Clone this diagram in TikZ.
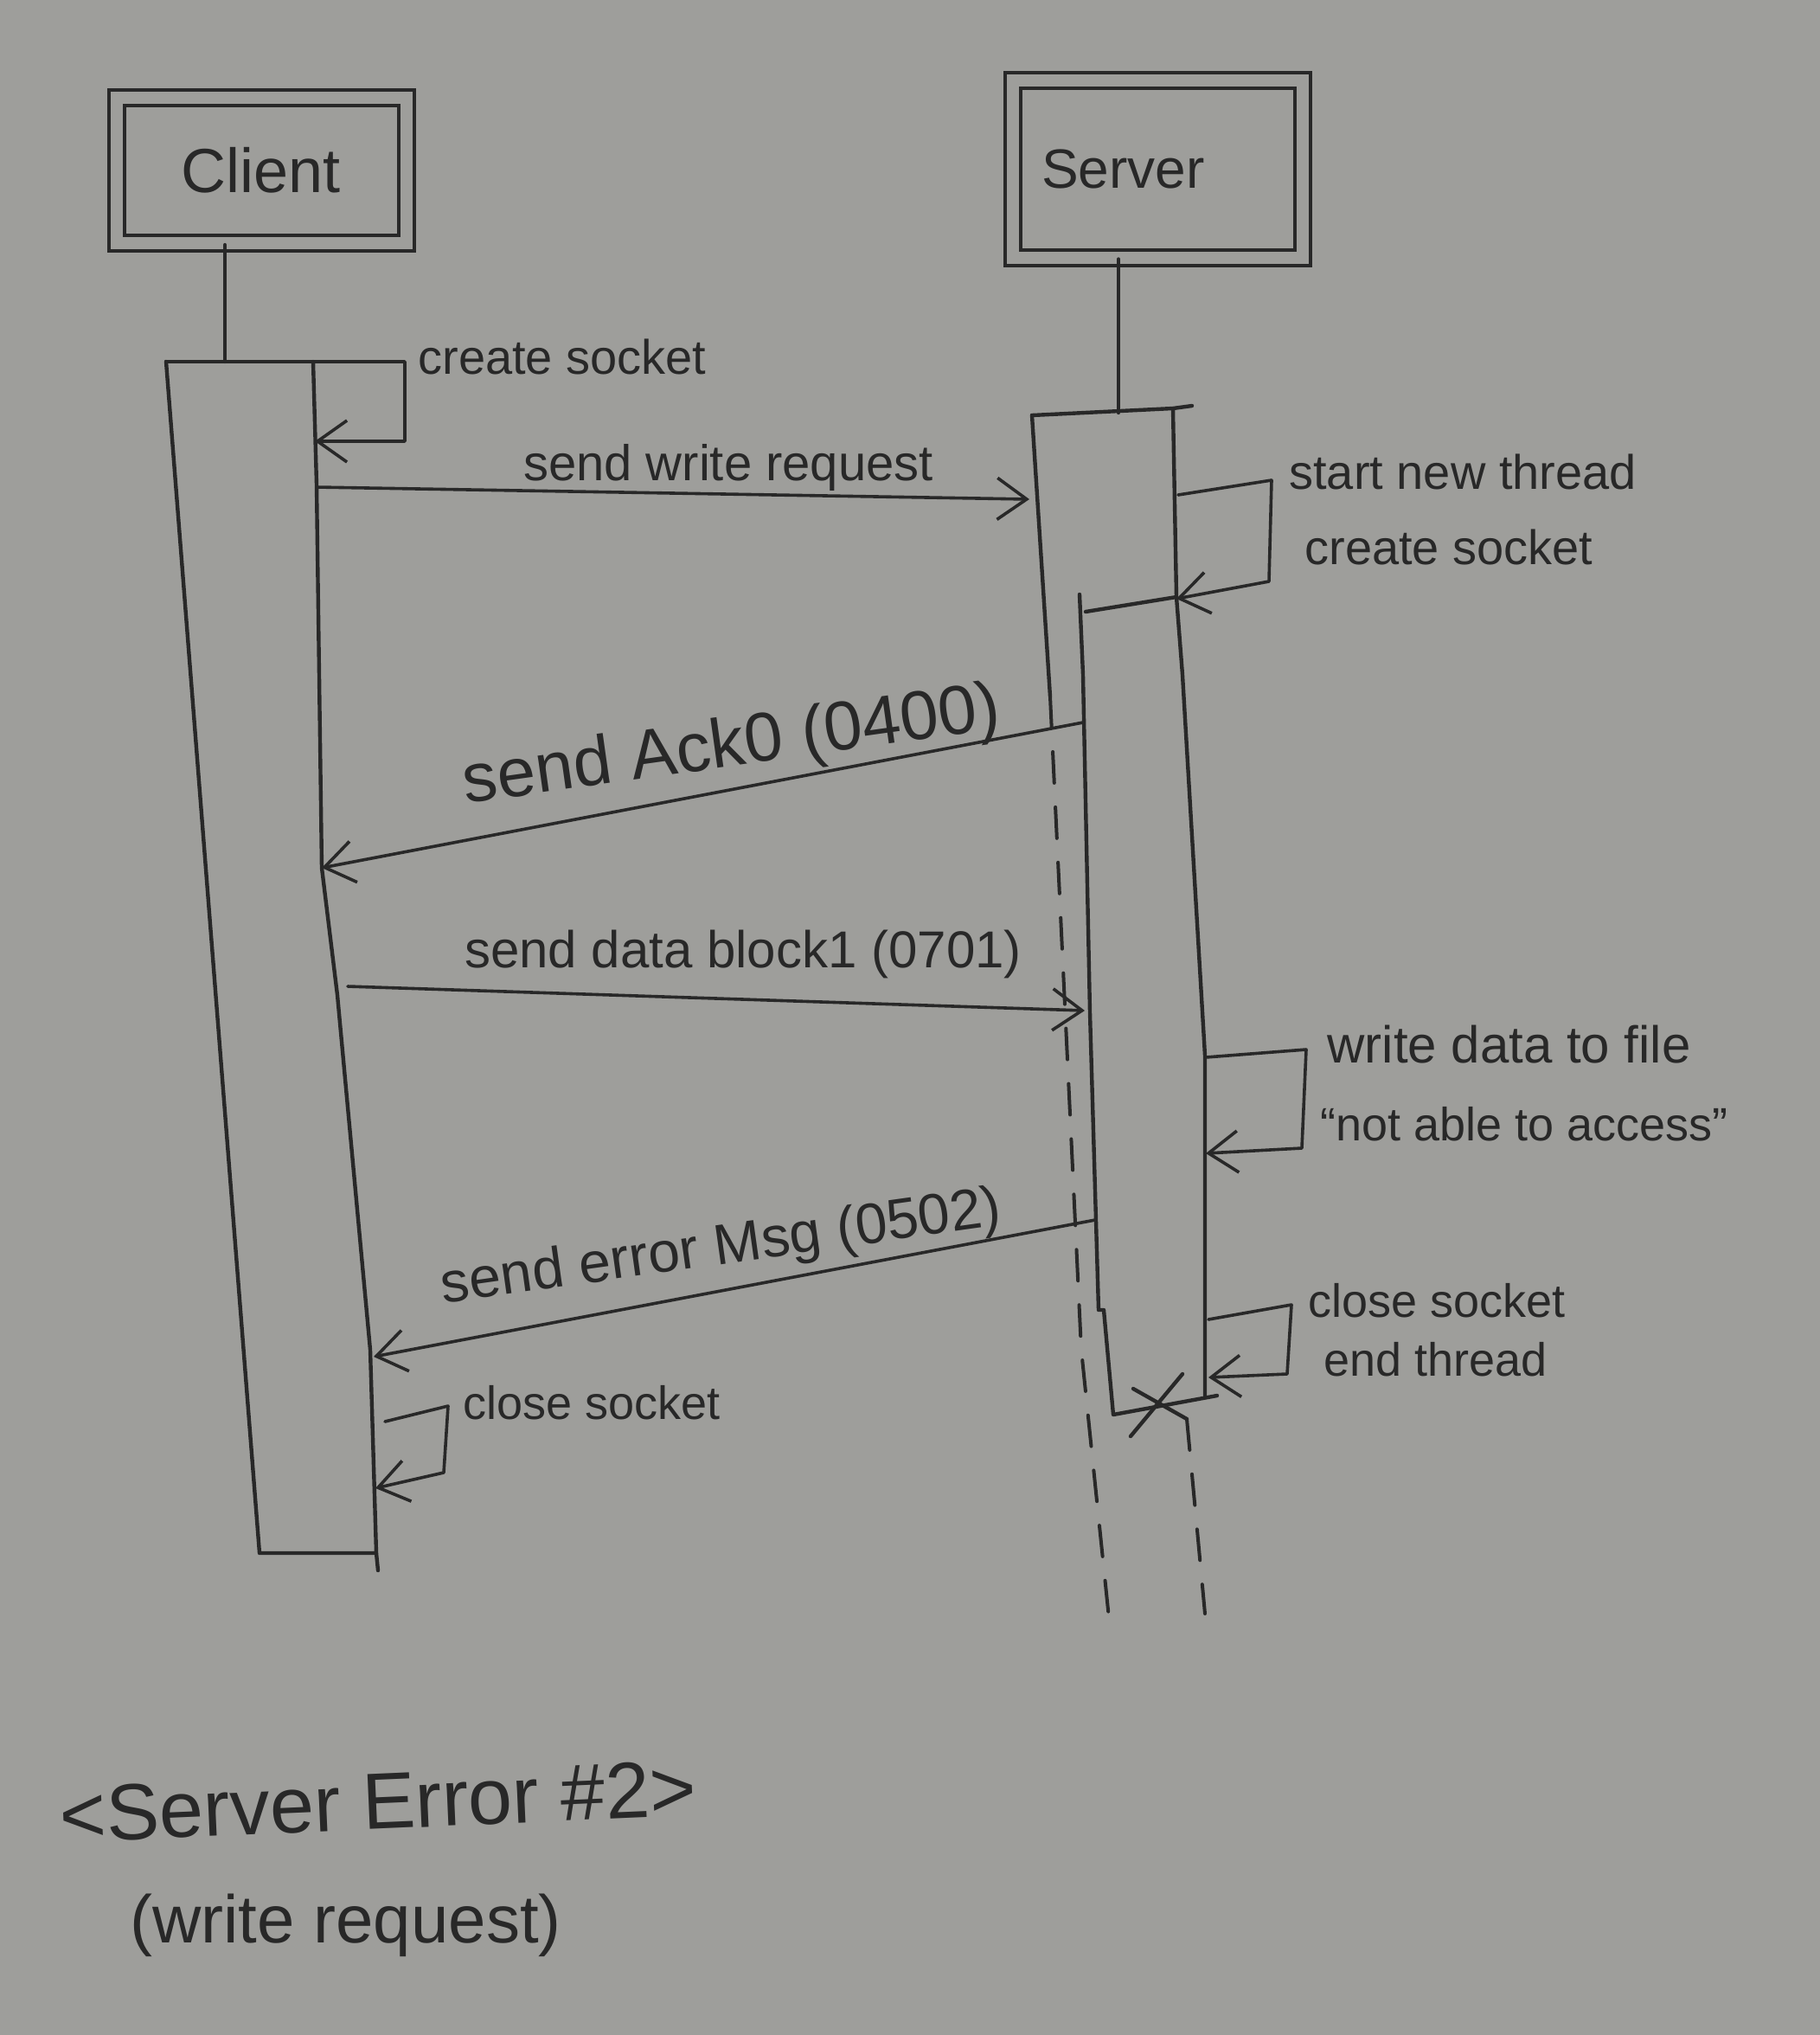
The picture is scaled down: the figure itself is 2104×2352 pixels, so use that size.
\documentclass[tikz,border=0pt]{standalone}
\usepackage{fontspec}
\setmainfont{Liberation Sans}
\usetikzlibrary{arrows.meta}
\definecolor{paper}{RGB}{158,158,155}
\definecolor{ink}{RGB}{40,40,40}
\begin{document}
\begin{tikzpicture}[x=0.5pt,y=-0.5pt,
  pen/.style={draw=ink,line width=2.2pt,line cap=round,line join=round},
  msg/.style={draw=ink,line width=1.8pt,line cap=round,line join=round,-{Straight Barb[length=17pt,width=24pt]}},
  lifedash/.style={draw=ink,line width=2pt,line cap=round,dash pattern=on 18pt off 14pt},
  headbox/.style={draw=ink,line width=2pt,double=paper,double distance=7pt,rectangle,inner sep=0pt,text=ink},
  lbl/.style={inner sep=0pt,text=ink,font=\fontsize{28pt}{34pt}\selectfont},
]
\fill[paper] (0,0) rectangle (2104,2352);
\useasboundingbox (0,0) rectangle (2104,2352);

% headers
\node[headbox,minimum width=167.5pt,minimum height=84pt,font=\fontsize{36pt}{40pt}\selectfont] (client) at (302,197) {Client};
\node[headbox,minimum width=167.5pt,minimum height=102.5pt,text width=134pt,align=left,font=\fontsize{32pt}{36pt}\selectfont] (server) at (1338,195) {Server};

% ---------- client ----------
\coordinate (cL) at (260,418);
\coordinate (cTL) at (192,418);
\coordinate (cTR) at (362,418);
\coordinate (cR1) at (366,560);
\coordinate (cR2) at (372,1003);
\coordinate (cR3) at (390,1150);
\coordinate (cR4) at (428,1560);
\coordinate (cBL) at (300,1795);
\coordinate (cBR) at (435,1795);
\coordinate (cEnd) at (437,1815);
\draw[pen] (client.south -| cL) -- (cL);
\draw[pen] (cTL) -- (cBL) -- (cBR);
\draw[pen] (cTR) -- (cR1) -- (cR2) -- (cR3) -- (cR4) -- (cBR) -- (cEnd);

% client self loop: create socket
\coordinate (cs1) at (468,418);
\coordinate (cs2) at (468,510);
\coordinate (csIn) at (364,510);
\draw[pen] (cTL) -- (cTR);
\draw[msg] (cTR) -- (cs1) -- (cs2) -- (csIn);
\node[lbl,anchor=base west] (tcs) at (483,432) {create socket};

% ---------- server ----------
\coordinate (sL) at (1293,477);
\coordinate (sTL) at (1193,480);
\coordinate (sTR) at (1356,472);
\coordinate (sTx) at (1378,469);
\coordinate (sML) at (1214,805);
\coordinate (sD1) at (1250,1560);
\coordinate (sD2) at (1283,1880);
\coordinate (sR1) at (1360,690);
\coordinate (sR2) at (1367,780);
\coordinate (sR3) at (1380,1000);
\coordinate (sR4) at (1393,1220);
\coordinate (sBR) at (1393,1613);
\draw[pen] (server.south -| sL) -- (sL);
\draw[pen] (sTL) -- (sTR) -- (sTx);
\draw[pen] (sTL) -- (sML);
\draw[lifedash] (sML) -- (sD1) -- (sD2);
\draw[pen] (sTR) -- (sR1) -- (sR2) -- (sR3) -- (sR4) -- (sBR);

% thread activation
\coordinate (tT0) at (1248,687);
\coordinate (tTL) at (1255,707);
\coordinate (tL1) at (1252,780);
\coordinate (tL2) at (1260,1170);
\coordinate (tL3) at (1270,1514);
\coordinate (tL4) at (1276,1514);
\coordinate (tBL) at (1287,1635);
\coordinate (tBR) at (1407,1613);
\draw[pen] (tT0) -- (tL1) -- (tL2) -- (tL3) -- (tL4) -- (tBL) -- (tBR);
\draw[pen] (tTL) -- (sR1);

% destruction mark and dashed lifeline below
\coordinate (x1) at (1307,1660);
\coordinate (x2) at (1367,1588);
\coordinate (x3) at (1310,1605);
\coordinate (x4) at (1372,1640);
\coordinate (rD) at (1393,1865);
\draw[pen] (x1) -- (x2);
\draw[pen] (x3) -- (x4);
\draw[lifedash] (x4) -- (rD);

% server self loop: start new thread / create socket
\coordinate (ss0) at (1362,572);
\coordinate (ss1) at (1470,555);
\coordinate (ss2) at (1467,672);
\coordinate (ssIn) at (1360,692);
\draw[msg] (ss0) -- (ss1) -- (ss2) -- (ssIn);
\node[lbl,anchor=base west] (tsnt) at (1490,565) {start new thread};
\node[lbl,anchor=base west] (tcs2) at (1508,652) {create socket};

% ---------- messages ----------
\coordinate (cOut1) at (366,563);
\coordinate (sIn1) at (1190,577);
\draw[msg] (cOut1) -- (sIn1);
\node[lbl,anchor=base,font=\fontsize{29pt}{34pt}\selectfont] (twr) at (842,555) {send write request};

\coordinate (tOut1) at (1252,835);
\coordinate (cIn2) at (372,1003);
\draw[msg] (tOut1) -- (cIn2);
\node[lbl,anchor=base,rotate=8,font=\fontsize{40pt}{44pt}\selectfont] (tack) at (849,885) {send Ack0 (0400)};

\coordinate (cOut2) at (402,1140);
\coordinate (tIn2) at (1254,1168);
\draw[msg] (cOut2) -- (tIn2);
\node[lbl,anchor=base,font=\fontsize{30pt}{34pt}\selectfont] (tdata) at (859,1118) {send data block1 (0701)};

% write data loop
\coordinate (w0) at (1394,1222);
\coordinate (w1) at (1510,1213);
\coordinate (w2) at (1505,1327);
\coordinate (wIn) at (1394,1333);
\draw[msg] (w0) -- (w1) -- (w2) -- (wIn);
\node[lbl,anchor=base west,font=\fontsize{30pt}{34pt}\selectfont] (twd) at (1534,1228) {write data to file};
\node[lbl,anchor=base west,font=\fontsize{27pt}{32pt}\selectfont] (tna) at (1526,1318) {“not able to access”};

\coordinate (tOut2) at (1266,1410);
\coordinate (cIn3) at (432,1568);
\draw[msg] (tOut2) -- (cIn3);
\node[lbl,anchor=base,rotate=8,font=\fontsize{33pt}{38pt}\selectfont] (terr) at (836,1461) {send error Msg (0502)};

% close socket / end thread loop
\coordinate (e0) at (1397,1525);
\coordinate (e1) at (1493,1508);
\coordinate (e2) at (1488,1588);
\coordinate (eIn) at (1397,1592);
\draw[msg] (e0) -- (e1) -- (e2) -- (eIn);
\node[lbl,anchor=base west,font=\fontsize{27pt}{32pt}\selectfont] (tcl) at (1512,1522) {close socket};
\node[lbl,anchor=base west,font=\fontsize{27pt}{32pt}\selectfont] (tet) at (1530,1590) {end thread};

% client close socket loop
\coordinate (k0) at (445,1643);
\coordinate (k1) at (518,1625);
\coordinate (k2) at (513,1702);
\coordinate (kIn) at (434,1720);
\draw[msg] (k0) -- (k1) -- (k2) -- (kIn);
\node[lbl,anchor=base west,font=\fontsize{27pt}{32pt}\selectfont] (tccs) at (535,1640) {close socket};

% footer
\node[lbl,anchor=base west,rotate=2.5,font=\fontsize{46pt}{52pt}\selectfont] (tfoot1) at (70,2130) {<Server Error \#2>};
\node[lbl,anchor=base west,font=\fontsize{39pt}{44pt}\selectfont] (tfoot2) at (150,2245) {(write request)};
\end{tikzpicture}
\end{document}
